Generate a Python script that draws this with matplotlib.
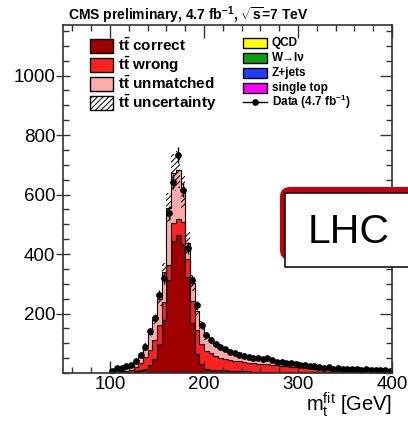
import numpy as np
import matplotlib
matplotlib.use("Agg")
import matplotlib.pyplot as plt
from matplotlib.patches import Rectangle, FancyBboxPatch
from matplotlib.lines import Line2D
from matplotlib.ticker import MultipleLocator, FixedLocator

plt.rcParams['font.family'] = ['Liberation Sans', 'DejaVu Sans']
plt.rcParams['mathtext.fontset'] = 'custom'
plt.rcParams['mathtext.rm'] = 'Liberation Sans'
plt.rcParams['mathtext.it'] = 'Liberation Sans:italic'
plt.rcParams['mathtext.bf'] = 'Liberation Sans:bold'
plt.rcParams['hatch.linewidth'] = 0.7

# ---- fitted top-mass distribution, 5 GeV bins from 100 to 400 GeV ----
bin_edges = np.arange(100, 405, 5)

tt_correct = [1, 1, 2, 2, 3, 5, 8, 14, 25, 45,
              95, 175, 310, 440, 460, 430, 320, 165, 60, 25,
              12, 10, 9, 8, 8, 7, 7, 6, 6, 6,
              5, 5, 5, 5, 4, 4, 4, 4, 3, 3,
              3, 3, 3, 2, 2, 2, 2, 2, 2, 2,
              2, 2, 1, 1, 1, 1, 1, 1, 1, 1]
tt_wrong = [3, 4, 5, 6, 8, 12, 22, 38, 50, 62,
            65, 60, 50, 60, 55, 75, 60, 75, 80, 70,
            62, 55, 46, 42, 38, 36, 34, 33, 31, 29,
            27, 26, 25, 24, 23, 22, 20, 19, 18, 17,
            16, 15, 14, 13, 12, 11, 11, 10, 9, 9,
            8, 8, 8, 7, 7, 7, 6, 6, 6, 5]
tt_unmatched = [7, 9, 10, 11, 13, 22, 28, 40, 55, 70,
                85, 100, 190, 170, 165, 100, 55, 60, 65, 60,
                48, 45, 40, 36, 32, 29, 27, 25, 23, 21,
                20, 19, 18, 17, 16, 15, 14, 13, 12, 11,
                10, 9, 8, 8, 7, 7, 6, 6, 6, 5,
                5, 5, 5, 5, 4, 4, 4, 4, 3, 3]
single_top = [0, 0, 0, 0, 0, 1, 1, 1, 2, 3,
              3, 4, 4, 4, 4, 4, 3, 3, 3, 2,
              1, 1, 1, 1, 1, 0, 0, 0, 0, 0,
              0, 0, 0, 0, 0, 0, 0, 0, 0, 0,
              0, 0, 0, 0, 0, 0, 0, 0, 0, 0,
              0, 0, 0, 0, 0, 0, 0, 0, 0, 0]
z_jets = [0] * 60
w_jets = [0, 0, 0, 0, 0, 2, 1, 0, 0, 0,
          0, 0, 0, 0, 0, 0, 0, 0, 1, 2,
          0, 0, 0, 0, 0, 0, 0, 0, 0, 0,
          0, 0, 0, 0, 0, 0, 0, 0, 0, 0,
          0, 0, 0, 0, 0, 0, 0, 0, 0, 0,
          0, 0, 0, 0, 0, 0, 0, 0, 0, 0]
qcd = [0] * 60
data = [8, 18, 16, 22, 28, 40, 62, 88, 140, 185,
        262, 318, 537, 643, 733, 615, 419, 312, 228, 160,
        128, 112, 98, 88, 80, 71, 66, 62, 58, 55,
        50, 52, 47, 50, 44, 38, 37, 35, 32, 30,
        27, 26, 22, 24, 20, 18, 19, 15, 16, 14,
        15, 12, 13, 11, 12, 10, 11, 9, 10, 8]
tt_rel_uncertainty = 0.09

x_ticks = [100, 200, 300, 400]
y_ticks = [200, 400, 600, 800, 1000]

W, H = 408, 421
fig = plt.figure(figsize=(W / 100, H / 100), dpi=100)


def fx(x):
    return x / W


def fy(y):
    return 1 - y / H


ax = fig.add_axes([fx(63), fy(373), (392 - 63) / W, (373 - 25) / H])

centers = 0.5 * (bin_edges[:-1] + bin_edges[1:])
widths = np.diff(bin_edges)

# stacked simulation
base = np.zeros(len(centers))
small_layers = [(single_top, '#ff00ff'), (z_jets, '#1f3cff'),
                (w_jets, '#119c11'), (qcd, '#ffff00')]
for vals, col in small_layers:
    top = base + np.asarray(vals, float)
    ax.stairs(top, bin_edges, baseline=base, fill=True, facecolor=col,
              edgecolor=col, linewidth=0.6)
    base = top
tt_layers = [(tt_correct, '#a00000'), (tt_wrong, '#ff2020'),
             (tt_unmatched, '#ffaaaa')]
for vals, col in tt_layers:
    top = base + np.asarray(vals, float)
    ax.stairs(top, bin_edges, baseline=base, fill=True, facecolor=col,
              edgecolor='black', linewidth=0.8)
    base = top
total = base

# uncertainty band
unc = tt_rel_uncertainty * total
ax.bar(centers, 2 * unc, bottom=total - unc, width=widths, fill=False,
       hatch='//////', edgecolor='black', linewidth=0)

# data
data_arr = np.asarray(data, float)
ax.errorbar(centers, data_arr, yerr=np.sqrt(data_arr), xerr=widths / 2,
            fmt='o', color='black', ms=3.8, elinewidth=1.0, capsize=0)

ax.set_xlim(50, 400)
ax.set_ylim(0, 1170)
ax.xaxis.set_major_locator(FixedLocator(x_ticks))
ax.xaxis.set_minor_locator(MultipleLocator(20))
ax.yaxis.set_major_locator(FixedLocator(y_ticks))
ax.yaxis.set_minor_locator(MultipleLocator(50))
ax.tick_params(axis='x', which='both', direction='in', top=True, bottom=True,
               labelsize=13.5, pad=2, width=1.0, color='#333333')
ax.tick_params(axis='x', which='major', length=9)
ax.tick_params(axis='x', which='minor', length=4.5)
ax.tick_params(axis='y', which='major', direction='inout', length=10,
               labelsize=13.5, pad=0.5, width=1.0, right=False, color='#333333')
ax.tick_params(axis='y', which='minor', direction='in', length=4.5,
               right=False, width=1.0, color='#333333')
for s in ax.spines.values():
    s.set_linewidth(1.2)
    s.set_color('#333333')

# right-hand ticks pointing inward
axr = ax.twinx()
axr.set_ylim(ax.get_ylim())
axr.yaxis.set_major_locator(FixedLocator(y_ticks))
axr.yaxis.set_minor_locator(MultipleLocator(50))
axr.tick_params(axis='y', which='both', direction='in', labelright=False,
                width=1.0, color='#333333')
axr.tick_params(axis='y', which='major', length=9)
axr.tick_params(axis='y', which='minor', length=4.5)
for s in axr.spines.values():
    s.set_visible(False)

# axis title and header
fig.text(fx(392), fy(411), r'm$_\mathregular{t}^\mathregular{fit}$ [GeV]',
         ha='right', va='baseline', fontsize=14.5)
fig.text(fx(68), fy(20),
         r'CMS preliminary, 4.7 fb$^{\mathbf{-1}}$, $\sqrt{\mathbf{s}}$=7 TeV',
         ha='left', va='baseline', fontsize=10, weight='bold')

# left legend block
tr = fig.transFigure
left_entries = [('#a00000', None, r'$\mathbf{t\bar{t}}$ correct'),
                ('#ff2020', None, r'$\mathbf{t\bar{t}}$ wrong'),
                ('#ffaaaa', None, r'$\mathbf{t\bar{t}}$ unmatched'),
                ('white', '//////', r'$\mathbf{t\bar{t}}$ uncertainty')]
for i, (col, hatch, label) in enumerate(left_entries):
    yc = 45.5 + 19 * i
    fig.add_artist(Rectangle((fx(90), fy(yc + 7)), 23 / W, 14 / H,
                             transform=tr, facecolor=col, edgecolor='black',
                             linewidth=1.0, hatch=hatch))
    fig.text(fx(118), fy(yc), label, ha='left', va='center',
             fontsize=11, weight='bold', transform=tr)

# right legend block
right_entries = [('#ffff00', 'QCD'), ('#119c11', 'W→lν'),
                 ('#1f3cff', 'Z+jets'), ('#ff00ff', 'single top')]
for i, (col, label) in enumerate(right_entries):
    yc = 43 + 15 * i
    fig.add_artist(Rectangle((fx(243), fy(yc + 5)), 24 / W, 10 / H,
                             transform=tr, facecolor=col, edgecolor='black',
                             linewidth=1.0))
    fig.text(fx(272), fy(yc), label, ha='left', va='center',
             fontsize=8.5, weight='bold', transform=tr)
yd = 102
fig.add_artist(Line2D([fx(243), fx(267)], [fy(yd), fy(yd)], transform=tr,
                      color='black', linewidth=1.0))
fig.add_artist(Line2D([fx(255)], [fy(yd)], transform=tr, marker='o',
                      color='black', markersize=3.8))
fig.text(fx(272), fy(yd), r'Data (4.7 fb$^{\mathbf{-1}}$)', ha='left',
         va='center', fontsize=8.5, weight='bold', transform=tr)

# LHC label box
dpi_tr = fig.dpi_scale_trans
fig.add_artist(FancyBboxPatch((2.80, (H - 260) / 100), 1.40, 0.73,
                              boxstyle='round,pad=0,rounding_size=0.10',
                              transform=dpi_tr, facecolor='#c8000c',
                              edgecolor='none'))
fig.add_artist(Rectangle((2.85, (H - 267) / 100), 1.40, 0.74,
                         transform=dpi_tr, facecolor='white',
                         edgecolor='black', linewidth=1.1))
fig.text(3.08, (H - 232) / 100, 'LHC', transform=dpi_tr, ha='left',
         va='center', fontsize=29.5, color='black')

fig.savefig('out.png', dpi=100)
